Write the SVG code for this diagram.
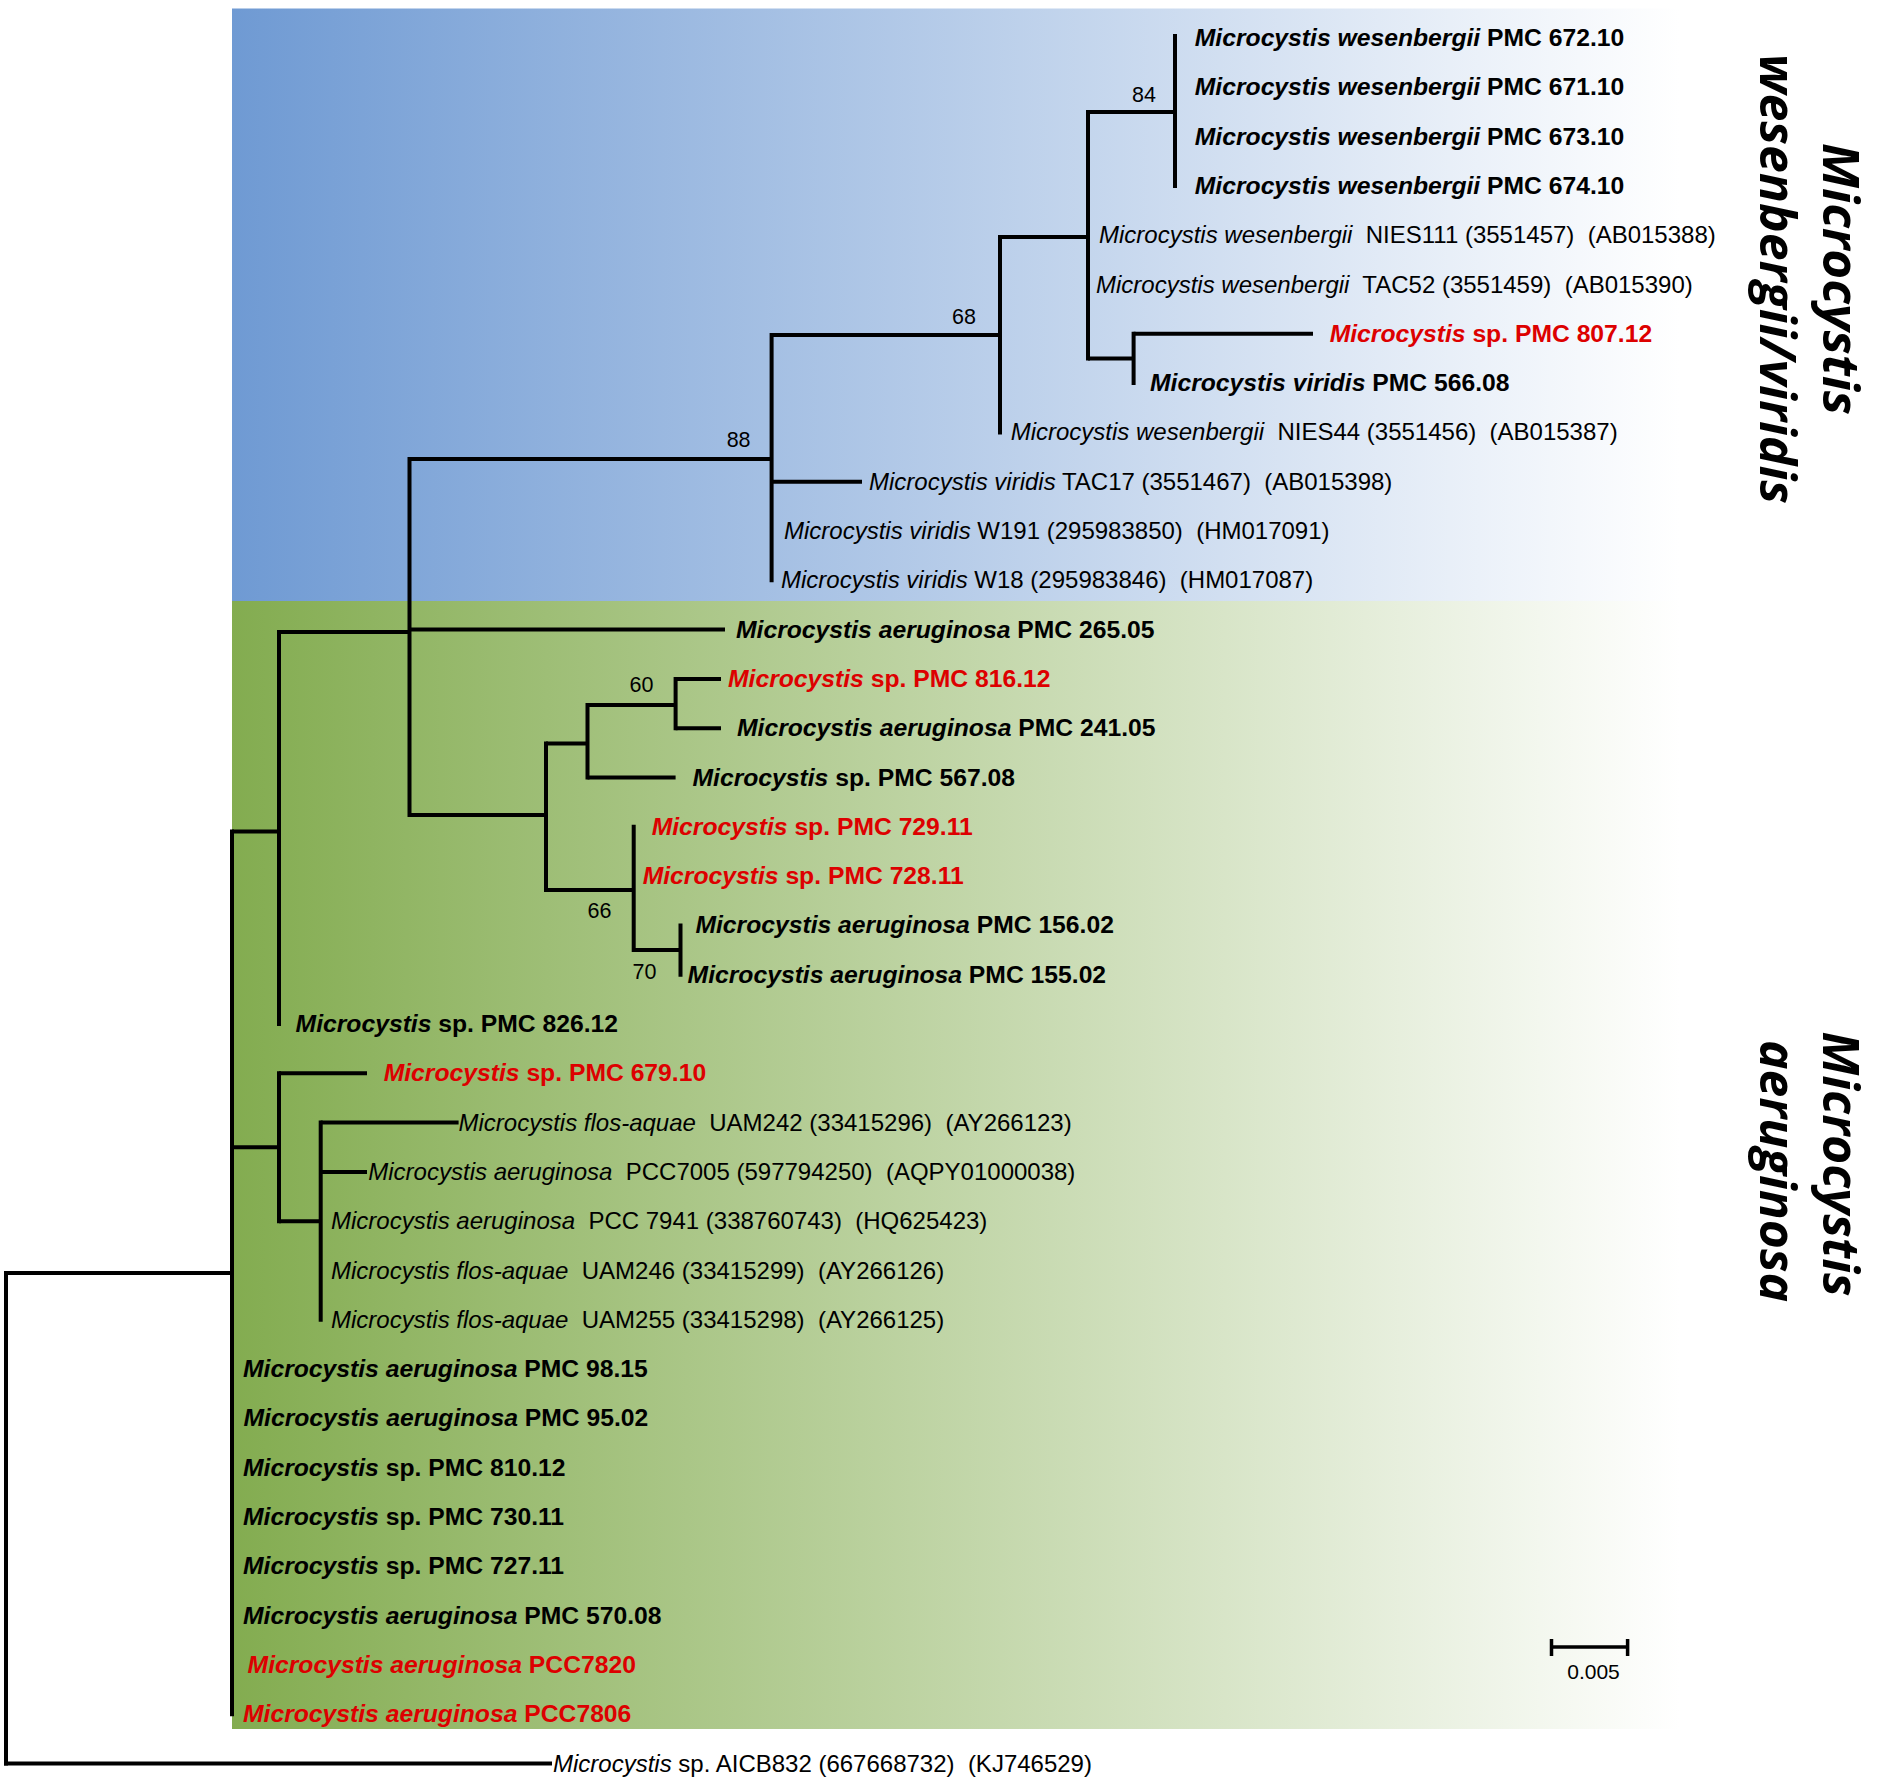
<svg xmlns="http://www.w3.org/2000/svg" width="1878" height="1782" viewBox="0 0 1878 1782">
<defs>
<linearGradient id="gBlue" gradientUnits="userSpaceOnUse" x1="232" y1="0" x2="1680" y2="0">
<stop offset="0" stop-color="#6f9ad3"/>
<stop offset="1" stop-color="#ffffff"/>
</linearGradient>
<linearGradient id="gGreen" gradientUnits="userSpaceOnUse" x1="232" y1="0" x2="1680" y2="0">
<stop offset="0" stop-color="#83ac50"/>
<stop offset="1" stop-color="#ffffff"/>
</linearGradient>
<style>
text { font-family: "Liberation Sans", Arial, sans-serif; font-size: 24px; fill: #000; }
.b { font-weight: bold; font-size: 24.7px; }
.i { font-style: italic; }
.red { fill: #dd0000; }
.bs { font-size: 21.5px; text-anchor: middle; }
.sc { font-size: 21px; text-anchor: middle; }
.title { font-family: "Open Sans", sans-serif; font-weight: bold; font-style: italic; font-size: 50px; text-anchor: middle; }
.v { stroke: #000; stroke-width: 4; fill: none; stroke-linecap: square; }
.h { stroke: #000; stroke-width: 4; fill: none; stroke-linecap: butt; }
</style>
</defs>
<rect width="1878" height="1782" fill="#ffffff"/>
<g id="clade-backgrounds">
<rect id="bg-wesenbergii" x="232" y="8.5" width="1448" height="592.5" fill="url(#gBlue)"/>
<rect id="bg-aeruginosa" x="232" y="601" width="1448" height="1128" fill="url(#gGreen)"/>
</g>
<g id="connectors">
<path class="v" d="M6 1273V1763.5M232 831.5V1714.2M279 632V1024M409.5 459V815M771.6 335V580.3M1000 237V432.4M1088 112V358.5M1175 36V185.9M1133.6 333.8V383.1M546 743.5V890M587.5 705V777.5M675.6 678.9V728.2M633.7 826.8V950M680.5 925.4V974.7M279 1073.3V1221.2M320.7 1122.6V1319.8"/>
<path class="h" d="M4 1273H232M4 1763.5H552M232 831.5H279M232 1147.25H279M279 632H409.5M409.5 459H771.6M409.5 629.6H725M409.5 815H546M771.6 335H1000M771.6 481.7H862M1000 237H1088M1088 112H1175M1088 358.5H1133.6M1133.6 333.8H1313M546 743.5H587.5M546 890H633.7M587.5 705H675.6M587.5 777.5H675.6M675.6 678.9H721M675.6 728.2H721M633.7 950H680.5M279 1073.3H367M279 1221.2H320.7M320.7 1122.6H458.6M320.7 1171.9H367"/>
</g>
<g id="bootstrap">
<g id="bs-84"><text class="bs" x="1144" y="101.5">84</text></g>
<g id="bs-68"><text class="bs" x="964" y="323.7">68</text></g>
<g id="bs-88"><text class="bs" x="738.6" y="446.7">88</text></g>
<g id="bs-60"><text class="bs" x="641.5" y="691.7">60</text></g>
<g id="bs-66"><text class="bs" x="599.5" y="918.4">66</text></g>
<g id="bs-70"><text class="bs" x="644.5" y="978.7">70</text></g>
</g>
<g id="tips">
<g id="tip01"><text class="b" x="1194.8" y="46" xml:space="preserve"><tspan class="i">Microcystis wesenbergii</tspan> PMC 672.10</text></g>
<g id="tip02"><text class="b" x="1194.8" y="95.3" xml:space="preserve"><tspan class="i">Microcystis wesenbergii</tspan> PMC 671.10</text></g>
<g id="tip03"><text class="b" x="1194.8" y="144.6" xml:space="preserve"><tspan class="i">Microcystis wesenbergii</tspan> PMC 673.10</text></g>
<g id="tip04"><text class="b" x="1194.8" y="193.9" xml:space="preserve"><tspan class="i">Microcystis wesenbergii</tspan> PMC 674.10</text></g>
<g id="tip05"><text x="1099" y="243.2" xml:space="preserve"><tspan class="i">Microcystis wesenbergii</tspan>  NIES111 (3551457)  (AB015388)</text></g>
<g id="tip06"><text x="1096" y="292.5" xml:space="preserve"><tspan class="i">Microcystis wesenbergii</tspan>  TAC52 (3551459)  (AB015390)</text></g>
<g id="tip07"><text class="b red" x="1329.7" y="341.8" xml:space="preserve"><tspan class="i">Microcystis</tspan> sp. PMC 807.12</text></g>
<g id="tip08"><text class="b" x="1150" y="391.1" xml:space="preserve"><tspan class="i">Microcystis viridis</tspan> PMC 566.08</text></g>
<g id="tip09"><text x="1010.7" y="440.4" xml:space="preserve"><tspan class="i">Microcystis wesenbergii</tspan>  NIES44 (3551456)  (AB015387)</text></g>
<g id="tip10"><text x="869" y="489.7" xml:space="preserve"><tspan class="i">Microcystis viridis</tspan> TAC17 (3551467)  (AB015398)</text></g>
<g id="tip11"><text x="784" y="539" xml:space="preserve"><tspan class="i">Microcystis viridis</tspan> W191 (295983850)  (HM017091)</text></g>
<g id="tip12"><text x="781" y="588.3" xml:space="preserve"><tspan class="i">Microcystis viridis</tspan> W18 (295983846)  (HM017087)</text></g>
<g id="tip13"><text class="b" x="736" y="637.6" xml:space="preserve"><tspan class="i">Microcystis aeruginosa</tspan> PMC 265.05</text></g>
<g id="tip14"><text class="b red" x="728" y="686.9" xml:space="preserve"><tspan class="i">Microcystis</tspan> sp. PMC 816.12</text></g>
<g id="tip15"><text class="b" x="737" y="736.2" xml:space="preserve"><tspan class="i">Microcystis aeruginosa</tspan> PMC 241.05</text></g>
<g id="tip16"><text class="b" x="692.5" y="785.5" xml:space="preserve"><tspan class="i">Microcystis</tspan> sp. PMC 567.08</text></g>
<g id="tip17"><text class="b red" x="651.7" y="834.8" xml:space="preserve"><tspan class="i">Microcystis</tspan> sp. PMC 729.11</text></g>
<g id="tip18"><text class="b red" x="642.7" y="884.1" xml:space="preserve"><tspan class="i">Microcystis</tspan> sp. PMC 728.11</text></g>
<g id="tip19"><text class="b" x="695.4" y="933.4" xml:space="preserve"><tspan class="i">Microcystis aeruginosa</tspan> PMC 156.02</text></g>
<g id="tip20"><text class="b" x="687.6" y="982.7" xml:space="preserve"><tspan class="i">Microcystis aeruginosa</tspan> PMC 155.02</text></g>
<g id="tip21"><text class="b" x="295.6" y="1032" xml:space="preserve"><tspan class="i">Microcystis</tspan> sp. PMC 826.12</text></g>
<g id="tip22"><text class="b red" x="383.7" y="1081.3" xml:space="preserve"><tspan class="i">Microcystis</tspan> sp. PMC 679.10</text></g>
<g id="tip23"><text x="458.5" y="1130.6" xml:space="preserve"><tspan class="i">Microcystis flos-aquae</tspan>  UAM242 (33415296)  (AY266123)</text></g>
<g id="tip24"><text x="368.3" y="1179.9" xml:space="preserve"><tspan class="i">Microcystis aeruginosa</tspan>  PCC7005 (597794250)  (AQPY01000038)</text></g>
<g id="tip25"><text x="331" y="1229.2" xml:space="preserve"><tspan class="i">Microcystis aeruginosa</tspan>  PCC 7941 (338760743)  (HQ625423)</text></g>
<g id="tip26"><text x="331" y="1278.5" xml:space="preserve"><tspan class="i">Microcystis flos-aquae</tspan>  UAM246 (33415299)  (AY266126)</text></g>
<g id="tip27"><text x="331" y="1327.8" xml:space="preserve"><tspan class="i">Microcystis flos-aquae</tspan>  UAM255 (33415298)  (AY266125)</text></g>
<g id="tip28"><text class="b" x="243" y="1377.1" xml:space="preserve"><tspan class="i">Microcystis aeruginosa</tspan> PMC 98.15</text></g>
<g id="tip29"><text class="b" x="243.5" y="1426.4" xml:space="preserve"><tspan class="i">Microcystis aeruginosa</tspan> PMC 95.02</text></g>
<g id="tip30"><text class="b" x="243" y="1475.7" xml:space="preserve"><tspan class="i">Microcystis</tspan> sp. PMC 810.12</text></g>
<g id="tip31"><text class="b" x="243" y="1525" xml:space="preserve"><tspan class="i">Microcystis</tspan> sp. PMC 730.11</text></g>
<g id="tip32"><text class="b" x="243" y="1574.3" xml:space="preserve"><tspan class="i">Microcystis</tspan> sp. PMC 727.11</text></g>
<g id="tip33"><text class="b" x="243" y="1623.6" xml:space="preserve"><tspan class="i">Microcystis aeruginosa</tspan> PMC 570.08</text></g>
<g id="tip34"><text class="b red" x="247.6" y="1672.9" xml:space="preserve"><tspan class="i">Microcystis aeruginosa</tspan> PCC7820</text></g>
<g id="tip35"><text class="b red" x="243" y="1722.2" xml:space="preserve"><tspan class="i">Microcystis aeruginosa</tspan> PCC7806</text></g>
<g id="tip36"><text x="553" y="1771.5" xml:space="preserve"><tspan class="i">Microcystis</tspan> sp. AICB832 (667668732)  (KJ746529)</text></g>
</g>
<g id="scale-bar">
<path class="h" style="stroke-width:3.5" d="M1551.5 1647H1627.6M1551.5 1639V1656M1627.6 1639V1656"/>
<text class="sc" x="1593.5" y="1678.5">0.005</text>
</g>
<g id="clade-labels">
<g id="label-wesenbergii-viridis">
<text class="title" transform="translate(1823,279) rotate(90)" textLength="272" lengthAdjust="spacingAndGlyphs">Microcystis</text>
<text class="title" transform="translate(1760,279) rotate(90)" textLength="450" lengthAdjust="spacingAndGlyphs">wesenbergii/viridis</text>
</g>
<g id="label-aeruginosa">
<text class="title" transform="translate(1823,1164) rotate(90)" textLength="265" lengthAdjust="spacingAndGlyphs">Microcystis</text>
<text class="title" transform="translate(1760,1171) rotate(90)" textLength="262" lengthAdjust="spacingAndGlyphs">aeruginosa</text>
</g>
</g>
</svg>
